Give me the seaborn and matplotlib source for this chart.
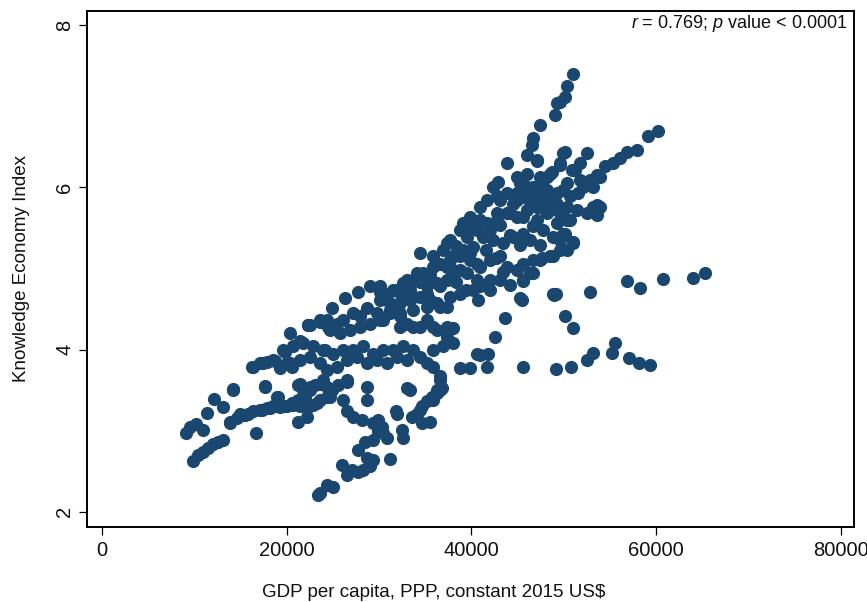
import matplotlib
matplotlib.use("Agg")
import matplotlib.pyplot as plt
import seaborn as sns
import pandas as pd

# Observations: (GDP per capita, PPP, constant 2015 US$, Knowledge Economy Index)
lower_left_arms = [
    (9910, 2.63), (10450, 2.70), (10990, 2.74), (11530, 2.78), (12080, 2.84), (12620, 2.86), (13090, 2.89),
    (9120, 2.97), (9550, 3.05), (10200, 3.08), (10930, 3.01), (11360, 3.22), (12180, 3.39), (13090, 3.29),
    (14180, 3.51), (13880, 3.09), (14610, 3.15), (15320, 3.19), (15860, 3.21), (16400, 3.24), (17130, 3.26),
    (17850, 3.28), (18570, 3.30), (19290, 3.29), (20020, 3.30), (20730, 3.32), (21460, 3.30), (22180, 3.28),
    (22900, 3.32), (23620, 3.38), (24350, 3.42), (16700, 2.97), (17670, 3.54), (19110, 3.42), (21270, 3.56),
    (21820, 3.50), (22540, 3.54), (21270, 3.11), (22180, 3.17),
]

upper_left_arm = [
    (16230, 3.79), (17130, 3.83), (17850, 3.85), (18750, 3.86), (19290, 3.77), (20020, 3.83), (20560, 3.79),
    (19830, 3.97), (20380, 4.20), (21460, 4.10), (22360, 4.30), (22900, 4.04), (23620, 4.37), (24160, 4.00),
    (24520, 4.28), (19650, 4.00), (20730, 4.04), (21820, 4.08), (23980, 4.00), (25060, 3.95), (26140, 4.00),
    (27230, 4.00), (28310, 4.04), (29390, 3.95), (30470, 4.00), (31550, 4.00), (32640, 4.04), (33720, 4.00),
    (34440, 3.91), (35170, 3.83), (35880, 3.79), (36610, 3.67), (16400, 3.79), (17490, 3.83), (18570, 3.87),
    (19290, 3.79), (20380, 3.83), (21460, 3.87), (22540, 3.91), (23620, 3.83), (24350, 3.75), (25430, 3.79),
    (26510, 3.87), (27590, 3.91), (28680, 3.83), (29760, 3.87), (30840, 3.83), (31920, 3.91), (33000, 3.87),
]

middle_band = [
    (28680, 4.51), (29760, 4.45), (27950, 4.41), (27230, 4.45), (26140, 4.37), (25430, 4.32), (24350, 4.37),
    (23620, 4.34), (22540, 4.30), (24700, 4.24), (25790, 4.20), (26870, 4.24), (27950, 4.28), (29030, 4.32),
    (30110, 4.37), (31200, 4.45), (32280, 4.41), (33000, 4.32), (34440, 4.28), (35170, 4.37), (36250, 4.24),
    (37330, 4.16), (38050, 4.26), (38050, 4.08), (36960, 4.04), (35880, 4.00), (22360, 4.30),
    (24920, 4.51), (26330, 4.64), (27730, 4.71), (29030, 4.78),
]

lower_band = [
    (14240, 3.50), (17670, 3.55), (18940, 3.42), (19830, 3.30), (20560, 3.34), (21270, 3.38), (22000, 3.42),
    (22540, 3.50), (23080, 3.56), (23620, 3.58), (24350, 3.54), (24890, 3.50), (25600, 3.56), (26510, 3.60),
    (13880, 3.11), (15510, 3.19), (17310, 3.26), (18210, 3.28), (18940, 3.30), (26140, 3.38), (26510, 3.24),
    (27230, 3.17), (28130, 3.13), (28680, 3.38), (28680, 3.54), (21460, 3.58), (23980, 3.63), (24700, 3.50),
    (26510, 3.63), (33000, 3.52), (36250, 3.50), (23270, 3.34), (24700, 3.42), (31920, 3.21), (34440, 3.26),
    (35880, 3.38), (36610, 3.50), (14970, 3.21),
]

lowest_branch = [
    (29390, 3.09), (29930, 3.13), (30300, 3.05), (30470, 2.97), (29930, 2.99), (30840, 2.91), (29390, 2.89),
    (28490, 2.86), (27770, 2.76), (28680, 2.66), (29390, 2.64), (29030, 2.56), (28310, 2.51), (27770, 2.49),
    (27050, 2.51), (26510, 2.45), (25970, 2.58), (31200, 2.65), (25060, 2.31), (23440, 2.21), (23620, 2.23),
    (24350, 2.33), (31810, 3.24), (32460, 3.01), (32640, 2.91), (33360, 3.50), (33550, 3.17), (34090, 3.21),
    (34630, 3.30), (35170, 3.36), (35710, 3.42), (36250, 3.46), (36790, 3.52), (36610, 3.63), (34630, 3.09),
    (35530, 3.11),
]

core_lower = [
    (34440, 5.19), (35880, 5.15), (36610, 5.06), (37690, 5.10), (38770, 5.15), (39850, 5.19), (40580, 5.06),
    (38050, 4.98), (39500, 4.94), (37330, 4.86), (36250, 4.82), (35170, 4.78), (34090, 4.94), (33000, 4.86),
    (32640, 4.82), (31920, 4.74), (30840, 4.69), (30110, 4.71), (30110, 4.61), (31200, 4.57), (32280, 4.57),
    (33360, 4.61), (34440, 4.65), (35530, 4.61), (36610, 4.53), (37690, 4.65), (38770, 4.69), (40210, 4.74),
    (40580, 4.86), (35880, 5.02), (34800, 4.94), (33720, 4.86), (31550, 4.74), (30840, 4.61), (33720, 4.65),
    (35170, 4.69), (36610, 4.78), (38050, 4.86), (40940, 5.02), (42020, 5.10), (43100, 5.15), (43820, 5.02),
    (44910, 4.98), (46350, 4.94), (47430, 5.10), (48870, 5.15), (50320, 5.23), (51030, 5.33), (49600, 5.35),
    (30110, 4.78), (31200, 4.49), (32280, 4.45), (33720, 4.49), (35170, 4.53), (36250, 4.57), (37330, 4.53),
    (35880, 4.28), (37330, 4.28), (30470, 4.37), (32280, 4.28), (33720, 4.28),
]

core_upper = [
    (46530, 6.52), (45990, 6.40), (47070, 6.32), (49950, 6.42), (52480, 6.42), (51760, 6.30), (50860, 6.21),
    (49600, 6.28), (48510, 6.17), (47430, 6.13), (45990, 6.17), (44910, 6.13), (43820, 6.30), (42920, 6.07),
    (45260, 6.05), (46700, 6.01), (48150, 5.97), (49240, 5.93), (50320, 6.05), (51760, 6.09), (53200, 6.01),
    (53920, 6.13), (53200, 5.76), (52480, 5.68), (51400, 5.72), (50320, 5.76), (49240, 5.80), (48150, 5.85),
    (47070, 5.89), (45990, 5.87), (44910, 5.85), (43820, 5.93), (42740, 5.89), (41660, 5.85), (40940, 5.76),
    (39850, 5.64), (39130, 5.56), (38770, 5.48), (39500, 5.39), (40580, 5.48), (41660, 5.56), (42740, 5.60),
    (43820, 5.68), (44910, 5.64), (45990, 5.72), (47070, 5.76), (48150, 5.68), (49240, 5.56), (50320, 5.60),
    (49950, 5.43), (48870, 5.39), (47790, 5.48), (46700, 5.52), (45620, 5.43), (44540, 5.39), (43460, 5.31),
    (42370, 5.35), (41290, 5.39), (40210, 5.27), (39130, 5.23), (38050, 5.15), (37330, 5.02), (37330, 5.31),
    (37690, 5.35), (38340, 5.28), (36930, 5.23), (39850, 5.52), (40940, 5.60), (42020, 5.48), (43100, 5.54),
    (44180, 5.41), (45260, 5.29), (46350, 5.35), (47430, 5.29), (41580, 5.23), (42670, 5.13), (39850, 5.10),
    (38770, 4.98), (38340, 4.83), (39420, 4.74), (35530, 4.92), (34440, 4.83), (33360, 4.74), (32280, 4.70),
    (40720, 4.61), (42020, 4.74), (43100, 4.86), (44180, 4.80),
]

upper_branches = [
    (50970, 7.40), (50380, 7.25), (50130, 7.12), (49600, 7.06), (49240, 7.04), (49050, 6.89), (47430, 6.77),
    (46700, 6.61), (47070, 6.34),
    (60230, 6.69), (59150, 6.63), (57890, 6.46), (56810, 6.44), (56080, 6.36), (55360, 6.30), (54460, 6.26),
    (53560, 6.15), (52840, 6.09), (52110, 6.01), (51570, 5.93), (50670, 5.89),
    (51220, 6.21), (50130, 6.44), (49600, 6.30), (48700, 6.19), (48150, 6.13), (47430, 6.03), (49950, 5.97),
    (45990, 6.01), (44910, 5.93), (42370, 6.01), (43100, 5.85), (44540, 5.80), (46350, 5.85), (47430, 5.76),
    (48510, 5.72), (49600, 5.68), (50670, 5.60), (47070, 5.60), (45620, 5.64), (44180, 5.68), (42740, 5.68),
    (53560, 5.78), (53920, 5.76), (53560, 5.66),
]

high_income_spread = [
    (56810, 4.84), (58250, 4.76), (60710, 4.87), (64020, 4.88), (65280, 4.94), (49160, 4.68), (48940, 4.67),
    (45450, 4.61), (41830, 3.95), (40940, 3.93), (41660, 3.78), (45560, 3.78), (49160, 3.76), (50750, 3.79),
    (52480, 3.87), (53130, 3.96), (55190, 3.96), (55540, 4.08), (57090, 3.90), (58170, 3.84), (59330, 3.81),
    (51030, 5.32), (50130, 5.43), (49600, 5.23), (48510, 5.15), (47620, 5.13), (46700, 5.10), (45620, 4.84),
    (43460, 4.96), (42020, 4.86), (40940, 4.78), (45620, 5.06), (45260, 4.63), (43640, 4.39), (42560, 4.16),
    (48870, 4.69), (50130, 4.41), (51030, 4.26), (52840, 4.71), (45620, 4.86), (46700, 4.94), (38770, 3.77),
    (39850, 3.77), (40580, 3.95),
]

x_ticks = [0, 20000, 40000, 60000, 80000]
y_ticks = [2, 4, 6, 8]
annotation = r"$r$ = 0.769; $p$ value < 0.0001"
x_title = "GDP per capita, PPP, constant 2015 US$"
y_title = "Knowledge Economy Index"

observations = (lower_left_arms + upper_left_arm + middle_band + lower_band + lowest_branch
                + core_lower + core_upper + upper_branches + high_income_spread)
df = pd.DataFrame(observations, columns=["gdp", "kei"])

sns.set_style("ticks")
plt.rcParams["font.family"] = ["Liberation Sans", "DejaVu Sans"]
plt.rcParams["mathtext.fontset"] = "custom"
plt.rcParams["mathtext.it"] = "Liberation Sans:italic"
plt.rcParams["mathtext.rm"] = "Liberation Sans"

fig = plt.figure(figsize=(8.67, 6.02), dpi=100)
ax = fig.add_axes([0.1, 0.1246, 0.8847, 0.8576])

sns.scatterplot(data=df, x="gdp", y="kei", ax=ax, color="#1a476f", s=90,
                linewidth=0, legend=False, zorder=3)

ax.set_xlim(-1623, 81376)
ax.set_ylim(1.811, 8.18)
ax.set_xticks(x_ticks)
ax.set_xticklabels([str(v) for v in x_ticks])
ax.set_yticks(y_ticks)
ax.set_yticklabels([str(v) for v in y_ticks])

for side, spine in ax.spines.items():
    spine.set_visible(True)
    spine.set_color("black")
    spine.set_linewidth(1.4)

ax.tick_params(axis="both", direction="out", length=6, width=0.9, color="black",
               labelsize=14.5, labelcolor="#111111", top=False, right=False)
ax.tick_params(axis="x", pad=4)
ax.tick_params(axis="y", pad=3)
for lab in ax.get_yticklabels():
    lab.set_rotation(90)
    lab.set_va("center")

ax.set_xlabel(x_title, fontsize=13.5, color="#111111")
ax.xaxis.set_label_coords(0.452, -0.126)
ax.xaxis.label.set_va("center")
ax.set_ylabel(y_title, fontsize=13.5, color="#111111")
ax.yaxis.set_label_coords(-0.0844, 0.5)
ax.yaxis.label.set_va("center")

ax.text(0.9913, 0.976, annotation, transform=ax.transAxes, ha="right", va="center",
        fontsize=13, color="#111111")

fig.savefig("out.png", dpi=100)
